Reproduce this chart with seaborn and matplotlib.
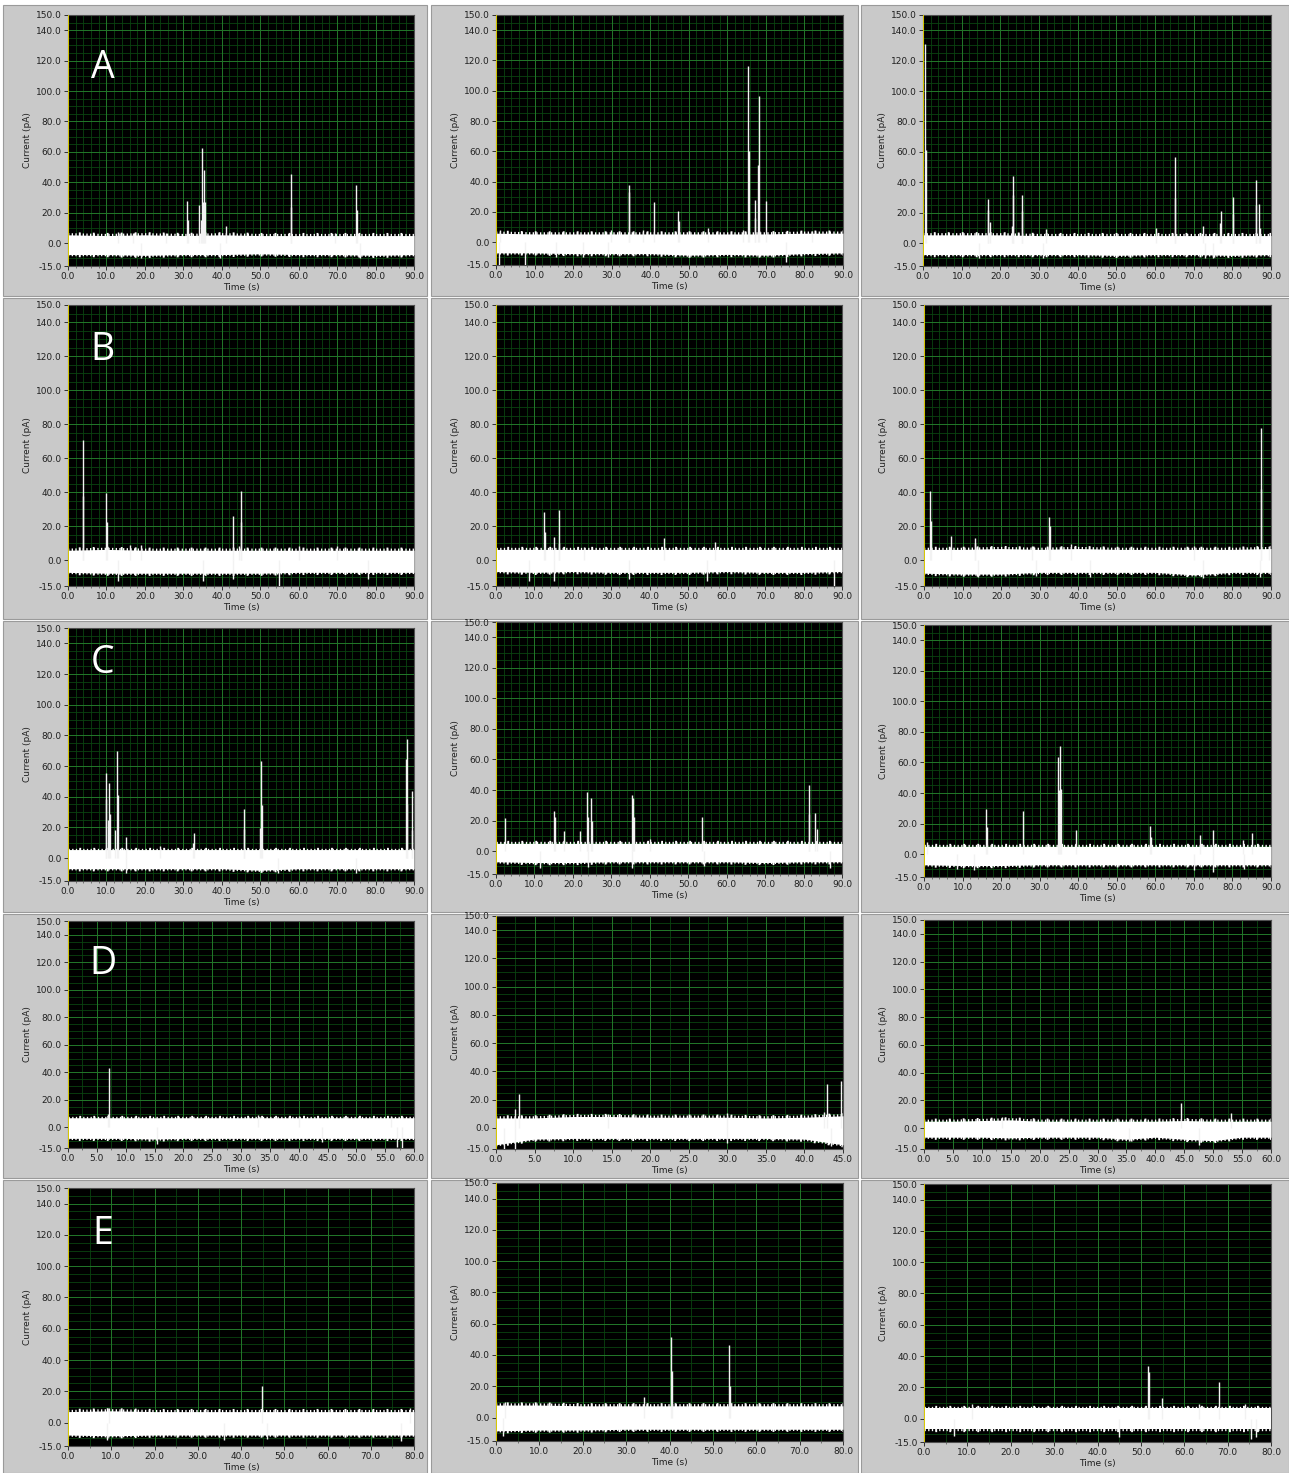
import numpy as np
import pandas as pd
import matplotlib
matplotlib.use('Agg')
import matplotlib.pyplot as plt
import matplotlib.ticker as mticker
from matplotlib.patches import Rectangle
import seaborn as sns

# --- data ---
# x range of each recording (s), row by row
X_MAX = [90, 90, 90, 90, 90, 90, 90, 90, 90, 60, 45, 60, 80, 80, 80]
X_STEP = [10, 10, 10, 10, 10, 10, 10, 10, 10, 5, 5, 5, 10, 10, 10]
ROW_LETTERS = ['A', 'B', 'C', 'D', 'E']
Y_TICKS = [-15, 0, 20, 40, 60, 80, 100, 120, 140, 150]

# spikes: (time s, current pA)
A1_SPIKES = [(13, 7.5), (17, 7), (25.5, 7), (30.9, 27.5), (31.1, 15), (34.2, 25), (34.5, 15),
             (34.8, 62.5), (35.1, 27), (35.4, 48), (35.7, 27), (41.0, 11.5), (57.9, 45.5),
             (58.0, 24), (69.5, 7), (75.0, 38.5), (75.2, 22),
             (19, -10), (39.5, -10), (76, -10)]
A2_SPIKES = [(1, 8), (29.8, 8), (34.5, 33), (34.6, 38), (38.2, 8), (41.0, 26.5), (47.3, 20.5),
             (47.5, 14), (55.0, 9.5), (64.0, 8), (65.4, 116.5), (65.6, 60), (67.1, 28), (67.3, 16),
             (68.0, 51), (68.2, 96.5), (69.9, 27.5), (82, 7.5),
             (0.9, -15), (7.4, -15), (15.5, -10), (22.5, -10), (29, -9.5), (75.2, -13)]
A3_SPIKES = [(0.6, 131), (0.9, 61.5), (16.8, 22), (16.9, 29), (17.2, 14), (23.1, 11), (23.2, 32),
             (23.3, 44), (25.5, 21), (25.6, 31.5), (31.7, 9), (60.3, 10), (65.1, 30), (65.2, 56.5),
             (72.3, 11), (76.9, 13), (77.0, 21), (80.1, 30.3), (80.3, 19), (86.0, 25), (86.1, 41.8),
             (87.0, 26), (87.2, 10),
             (14.5, -10), (31, -10), (73, -10), (75, -10)]
B1_SPIKES = [(3.8, 70.5), (4.0, 38), (10.0, 39.5), (10.2, 22.5), (16, 9), (19, 9), (42.8, 26),
             (44.5, 8.5), (44.9, 40.5), (45.1, 22.5), (60, 8.5), (70, 8.5),
             (13, -12), (35, -12), (43, -11), (55, -15), (78, -11)]
B2_SPIKES = [(12.4, 28.5), (12.7, 17), (15.2, 13.5), (16.3, 29.5), (16.5, 10.5), (23, 8),
             (43.8, 13), (57.0, 11),
             (8.5, -12), (15.2, -12), (34.5, -11), (55, -12), (88, -15)]
B3_SPIKES = [(1.6, 40.8), (1.8, 23), (7.0, 14.5), (13.1, 13), (13.3, 10), (28, 8.5), (32.5, 25.8),
             (32.8, 20), (38.2, 9.5), (70, 8.5), (87.3, 78), (87.5, 41.7), (89.5, 8.5),
             (14, -10), (29, -9), (43, -10), (72.3, -10.5), (87.2, -10)]
C1_SPIKES = [(9.8, 55.5), (10.0, 38.5), (10.3, 25), (10.7, 49), (10.9, 29), (12.1, 18), (12.7, 70),
             (12.9, 41), (15.1, 14), (24, 8), (32.6, 10), (32.8, 16), (45.7, 32), (45.9, 19),
             (49.9, 19.5), (50.2, 63), (50.4, 34.5), (88.0, 64.5), (88.2, 35.5), (88.3, 77.5),
             (89.4, 18.5), (89.6, 44),
             (15, -10), (54.5, -10), (75, -9.5)]
C2_SPIKES = [(2.3, 21.5), (15.1, 26.5), (15.4, 22.5), (17.6, 13), (21.9, 13), (23.6, 38.5),
             (23.9, 22), (24.7, 35), (24.9, 20), (35.4, 36.5), (35.6, 34.5), (35.9, 22), (40, 8),
             (53.6, 22.5), (81.3, 43), (81.5, 24.5), (83.1, 25), (83.4, 14.5),
             (11.5, -11), (24, -10.5), (35.5, -11), (54, -10), (87, -11)]
C3_SPIKES = [(0.9, 8), (16.0, 29.5), (16.3, 17.5), (25.7, 28.5), (34.8, 63.5), (35.0, 42),
             (35.4, 71), (35.6, 42.5), (39.3, 16), (58.5, 18.5), (58.8, 11.5), (71.5, 12.5),
             (75.0, 16), (82.8, 9.5), (85.1, 14),
             (8.5, -10), (13, -10.5), (70, -10.5), (75, -11.5), (83, -10)]
D1_SPIKES = [(7.0, 10), (7.1, 43), (33, 9), (40, 8.5), (56, 8.5),
             (15.5, -12), (44, -11), (57, -14), (58, -15)]
D2_SPIKES = [(2.4, 13), (3.0, 24), (14.5, 9.5), (30.0, 10.8), (42.5, 11), (42.9, 30.8), (44.8, 33),
             (1.0, -15), (2.5, -15), (30.0, -11), (43.5, -13)]
D3_SPIKES = [(13.5, 8), (44.4, 18.3), (53.1, 10.8),
             (35.5, -9.5), (47.5, -12)]
E1_SPIKES = [(9.5, 9.5), (44.9, 23.4), (79, 9),
             (9, -11), (36, -11), (46, -10.5), (77, -12)]
E2_SPIKES = [(2, 10), (34.1, 13), (40.4, 51.4), (40.6, 30), (53.7, 46.7), (53.9, 20),
             (1.5, -12)]
E3_SPIKES = [(11, 9.5), (51.7, 33.5), (51.8, 30), (54.8, 13.3), (63.4, 9), (67.9, 23.5), (74, 9),
             (7, -11), (45, -12), (75.5, -13), (76.5, -12)]

# noise band edges (pA), sampled evenly from 0 to x max
A1_HI = [5.5, 5, 5.5, 5, 5.5, 5, 5, 5, 5, 5]
A1_LO = [-7.5, -7.5, -8, -7.5, -7.5, -7, -7.5, -7.5, -8, -7.5]
A2_HI = [6, 5.5, 5.5, 5.5, 5.5, 5.5, 5.5, 5.5, 6, 6]
A2_LO = [-7, -7, -7.5, -7.5, -7.5, -8.5, -8, -8.5, -7.5, -7]
A3_HI = [5.5, 5.5, 5.5, 5, 5, 5, 5, 5, 5, 5]
A3_LO = [-7.5, -7.5, -7.5, -7.5, -7.5, -8, -7.5, -7.5, -8, -7.5]
B1_HI = [6, 6.5, 6, 6, 6, 6, 6, 6, 6, 6]
B1_LO = [-7, -7.5, -7.5, -7.5, -7.5, -7.5, -7, -7, -7, -7]
B2_HI = [6.5, 6.5, 6.5, 6.5, 6.5, 6.5, 6.5, 6.5, 6.5, 6.5]
B2_LO = [-6.5, -7, -6.5, -7, -7, -7, -6.5, -7, -7, -6.5]
B3_HI = [6.5, 6.5, 7, 6.5, 7, 6.5, 6.5, 6.5, 6.5, 7]
B3_LO = [-7.5, -8, -8, -7, -7, -7, -7, -8.5, -7, -7]
C1_HI = [5.5, 5.5, 5.5, 5.5, 5.5, 5.5, 5.5, 5.5, 5.5, 5.5]
C1_LO = [-7, -7, -7, -7, -7, -8, -7, -7, -7, -7]
C2_HI = [5, 5, 5, 5, 5, 5, 5, 5, 5, 5]
C2_LO = [-7, -7.5, -7.5, -7, -7, -7, -7, -7.5, -7, -7]
C3_HI = [5, 5, 5, 5, 5, 5, 5, 5, 5, 5]
C3_LO = [-7, -7.5, -7.5, -7, -7, -7, -7, -7, -7, -7]
D1_HI = [7, 7, 7, 7, 7, 7, 7, 7, 7, 7, 7, 7, 7]
D1_LO = [-8, -8, -8, -8.5, -8, -8, -8, -8, -8, -8, -8, -8, -8]
D2_HI = [7, 7, 8, 8, 7.5, 7.5, 7.5, 7, 7.5, 8.5]
D2_LO = [-12, -8, -7.5, -7.5, -7.5, -7.5, -7.5, -7.5, -8, -12]
D3_HI = [5, 5, 5.5, 6, 5, 5, 5, 5, 5, 5.5, 5, 5, 5]
D3_LO = [-6.5, -6.5, -6.5, -7, -6.5, -6.5, -6.5, -8, -6.5, -8, -9, -6.5, -6.5]
E1_HI = [7, 7.5, 7, 7, 7, 7, 7, 7, 7]
E1_LO = [-8, -8.5, -8, -8, -8, -8, -8, -8, -8]
E2_HI = [8, 8, 7.5, 7.5, 7.5, 7.5, 7.5, 7.5, 7.5]
E2_LO = [-8.5, -8, -8, -7.5, -7.5, -7.5, -7.5, -7.5, -7.5]
E3_HI = [6.5, 6.5, 6.5, 6.5, 6.5, 6.5, 6.5, 6.5, 6.5]
E3_LO = [-7, -7, -7, -7, -7, -7, -7, -7, -7]

SPIKES = [A1_SPIKES, A2_SPIKES, A3_SPIKES, B1_SPIKES, B2_SPIKES, B3_SPIKES,
          C1_SPIKES, C2_SPIKES, C3_SPIKES, D1_SPIKES, D2_SPIKES, D3_SPIKES,
          E1_SPIKES, E2_SPIKES, E3_SPIKES]
BAND_HI = [A1_HI, A2_HI, A3_HI, B1_HI, B2_HI, B3_HI, C1_HI, C2_HI, C3_HI,
           D1_HI, D2_HI, D3_HI, E1_HI, E2_HI, E3_HI]
BAND_LO = [A1_LO, A2_LO, A3_LO, B1_LO, B2_LO, B3_LO, C1_LO, C2_LO, C3_LO,
           D1_LO, D2_LO, D3_LO, E1_LO, E2_LO, E3_LO]

# --- layout (pixels: left, top, right, bottom of each plot area) ---
W, H = 1289, 1473
BOXES = [(68, 15, 414, 266), (496, 15, 843, 265), (923, 15, 1271, 266),
         (68, 305, 414, 586), (496, 305, 842, 586), (924, 305, 1271, 586),
         (68, 628, 414, 881), (496, 622, 842, 874), (924, 625, 1271, 877),
         (68, 921, 414, 1148), (496, 916, 843, 1149), (924, 920, 1271, 1149),
         (68, 1188, 414, 1446), (496, 1183, 843, 1441), (924, 1184, 1271, 1442)]
CELL_X = [(3, 427), (431, 858), (861, 1289)]
CELL_Y = [(5, 296), (298, 619), (621, 912), (914, 1178), (1180, 1473)]
LETTER_Y = [0.79, 0.84, 0.86, 0.81, 0.82]
MAJOR_GRID = '#23782a'
MINOR_GRID = '#0a4410'

sns.set_style('dark', {'axes.facecolor': 'black', 'figure.facecolor': 'white'})
plt.rcParams['font.family'] = ['DejaVu Sans']

fig = plt.figure(figsize=(W / 100, H / 100), dpi=100)

# LabVIEW-style gray frames behind each graph
for (y0, y1) in CELL_Y:
    for (x0, x1) in CELL_X:
        fig.patches.append(Rectangle((x0 / W, 1 - y1 / H), (x1 - x0) / W, (y1 - y0) / H,
                                     transform=fig.transFigure, facecolor='#c9c9c9',
                                     edgecolor='#9a9a9a', lw=0.8, zorder=-10))

for i, (L, T, R, B) in enumerate(BOXES):
    ax = fig.add_axes([L / W, 1 - B / H, (R - L) / W, (B - T) / H])
    ax.set_facecolor('black')
    ax.grid(False)
    xmax = X_MAX[i]

    ax.set_xlim(0, xmax)
    ax.set_ylim(-15, 150)
    ax.set_xticks(np.arange(0, xmax + 0.01, X_STEP[i]))
    ax.set_yticks(Y_TICKS)
    ax.xaxis.set_minor_locator(mticker.AutoMinorLocator(5 if xmax == 90 else 2))
    ax.yaxis.set_minor_locator(mticker.MultipleLocator(5))
    ax.xaxis.set_major_formatter(mticker.FormatStrFormatter('%.1f'))
    ax.yaxis.set_major_formatter(mticker.FormatStrFormatter('%.1f'))

    # green LabVIEW grid taken from the axis tick locations
    ax.vlines(ax.xaxis.get_minorticklocs(), -15, 150, color=MINOR_GRID, lw=0.6, zorder=0.5)
    ax.hlines(ax.yaxis.get_minorticklocs(), 0, xmax, color=MINOR_GRID, lw=0.6, zorder=0.5)
    ax.vlines(ax.get_xticks(), -15, 150, color=MAJOR_GRID, lw=0.7, zorder=0.6)
    ax.hlines(ax.get_yticks(), 0, xmax, color=MAJOR_GRID, lw=0.7, zorder=0.6)

    band = pd.DataFrame({'t': np.linspace(0, xmax, len(BAND_HI[i])),
                         'hi': BAND_HI[i], 'lo': BAND_LO[i]})
    ax.fill_between(band['t'], band['lo'], band['hi'], color='white', lw=0, zorder=3)
    # two overlaid dash patterns make the band edges look noisy
    for col in ['hi', 'lo']:
        sns.lineplot(data=band, x='t', y=col, ax=ax, color='white', lw=2.4,
                     dashes=False, linestyle=(0, (0.4, 0.7)), zorder=3)
        sns.lineplot(data=band, x='t', y=col, ax=ax, color='white', lw=3.8,
                     dashes=False, linestyle=(0.6, (0.35, 2.3)), zorder=3)

    sp = pd.DataFrame(SPIKES[i], columns=['t', 'pA'])
    ax.vlines(sp['t'], 0, sp['pA'], color='#f2f2f2', lw=1.0, zorder=4)
    ax.axvline(0, color='#d8c800', lw=1.4, zorder=5)

    ax.set_xlim(0, xmax)
    ax.set_ylim(-15, 150)
    ax.tick_params(which='major', labelsize=6.5, length=3, width=0.7, color='#303030',
                   labelcolor='#202020', direction='out', pad=1.5, bottom=True, left=True)
    ax.tick_params(which='minor', length=1.5, width=0.5, color='#505050', bottom=True, left=False)
    for s in ax.spines.values():
        s.set_color('#505050')
        s.set_linewidth(0.8)

    ax.set_xlabel('Time (s)', fontsize=6.5, labelpad=1.5, color='#202020')
    ax.set_ylabel('Current (pA)', fontsize=6.5, labelpad=3, color='#202020')

    if i % 3 == 0:
        r = i // 3
        ax.text(0.10, LETTER_Y[r], ROW_LETTERS[r], transform=ax.transAxes, color='white',
                fontsize=27, family=['Open Sans', 'DejaVu Sans'], ha='center', va='center', zorder=6)

fig.savefig('out.png', dpi=100)
